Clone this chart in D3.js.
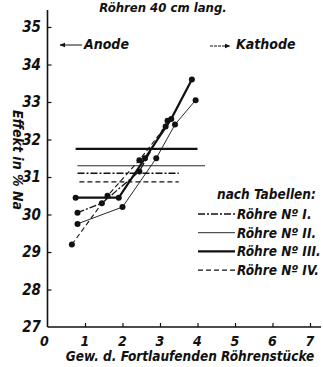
<!DOCTYPE html>
<html>
<head>
<meta charset="utf-8">
<script src="https://cdn.jsdelivr.net/npm/d3@7"></script>
<style>
  body { margin: 0; background: #fff; }
  svg { display: block; }
  text { font-family: "DejaVu Sans Condensed", "DejaVu Sans", sans-serif; font-style: italic; font-weight: bold; fill: #111; }
</style>
</head>
<body>
<svg id="chart" width="323" height="367"></svg>
<script>
'use strict';

// Röhre names and line styles for the legend
const ROEHREN = ['Röhre Nº I.', 'Röhre Nº II.', 'Röhre Nº III.', 'Röhre Nº IV.'];

// measured points, per Röhre: piece position vs effect in % Na
const POS_I   = [0.8, 1.45, 2.45, 3.2];
const VAL_I   = [30.05, 30.3, 31.15, 32.5];
const POS_II  = [0.8, 2.0, 2.9, 3.4, 3.95];
const VAL_II  = [29.75, 30.2, 31.5, 32.4, 33.05];
const POS_III = [0.75, 1.9, 2.6, 3.3, 3.85];
const VAL_III = [30.45, 30.45, 31.5, 32.55, 33.6];
const POS_IV  = [0.65, 1.6, 2.45, 3.15];
const VAL_IV  = [29.2, 30.5, 31.45, 32.35];

// values "nach Tabellen" (horizontal lines) and their extent
const TAB_VAL   = [31.1, 31.3, 31.75, 30.87];
const TAB_START = [0.8, 0.8, 0.75, 0.85];
const TAB_END   = [3.5, 4.2, 4.0, 3.5];

const X_TICKS = [0, 1, 2, 3, 4, 5, 6, 7];
const Y_TICKS = [27, 28, 29, 30, 31, 32, 33, 34, 35];

const STYLES = [
  {width: 1.3, dash: '7,2,2,2'},
  {width: 0.9, dash: null},
  {width: 2.2, dash: null},
  {width: 1.1, dash: '5,3'}
];

const svg = d3.select('#chart');
const x = d3.scaleLinear().domain([0, 7]).range([47.5, 310]);
const y = d3.scaleLinear().domain([27, 35]).range([327, 27]);

function styleLine(sel, s) {
  sel.attr('fill', 'none')
     .attr('stroke', '#111')
     .attr('stroke-width', s.width)
     .attr('stroke-dasharray', s.dash);
}

/***** TITLE *****/
svg.append('text')
   .attr('x', 163).attr('y', 12)
   .attr('text-anchor', 'middle')
   .attr('font-size', 13)
   .text('Röhren 40 cm lang.');

/***** AXES *****/
const xAxis = svg.append('g')
  .attr('transform', 'translate(0,' + y(27) + ')')
  .call(d3.axisTop(x).tickValues(X_TICKS.slice(1)).tickSize(4).tickFormat(''));
xAxis.select('.domain').remove();
svg.append('line')
   .attr('x1', x(0)).attr('x2', 321)
   .attr('y1', y(27)).attr('y2', y(27))
   .attr('stroke', '#111').attr('stroke-width', 1.6);

const yAxis = svg.append('g')
  .attr('transform', 'translate(' + x(0) + ',0)')
  .call(d3.axisRight(y).tickValues(Y_TICKS.slice(1)).tickSize(4).tickFormat(''));
yAxis.select('.domain').remove();
svg.append('line')
   .attr('x1', x(0)).attr('x2', x(0))
   .attr('y1', 10).attr('y2', y(27))
   .attr('stroke', '#111').attr('stroke-width', 1.6);
svg.selectAll('.tick line').attr('stroke', '#111').attr('stroke-width', 1.2);

svg.selectAll('.xlab')
   .data(X_TICKS).enter().append('text')
   .attr('x', d => x(d) - (d === 0 ? 3 : 0))
   .attr('y', y(27) + 19)
   .attr('text-anchor', 'middle')
   .attr('font-size', 14)
   .text(d => d);

svg.selectAll('.ylab')
   .data(Y_TICKS).enter().append('text')
   .attr('x', 41)
   .attr('y', d => y(d) + 5)
   .attr('text-anchor', 'end')
   .attr('font-size', 15)
   .text(d => d);

svg.append('text')
   .attr('transform', 'translate(13,' + 160 + ') rotate(90)')
   .attr('text-anchor', 'middle')
   .attr('font-size', 14)
   .text('Effekt in % Na');

svg.append('text')
   .attr('x', 190).attr('y', 361)
   .attr('text-anchor', 'middle')
   .attr('font-size', 13.5)
   .text('Gew. d. Fortlaufenden Röhrenstücke');

/***** ANODE / KATHODE *****/
svg.append('defs').append('marker')
   .attr('id', 'arr').attr('viewBox', '0 0 10 10')
   .attr('refX', 9).attr('refY', 5)
   .attr('markerWidth', 6).attr('markerHeight', 6)
   .attr('orient', 'auto')
   .append('path').attr('d', 'M0,1L10,5L0,9z').attr('fill', '#111');

svg.append('line')
   .attr('x1', 82).attr('x2', 60).attr('y1', 45).attr('y2', 45)
   .attr('stroke', '#111').attr('stroke-width', 1).attr('marker-end', 'url(#arr)');
svg.append('text').attr('x', 84).attr('y', 49).attr('font-size', 14).text('Anode');

svg.append('line')
   .attr('x1', 210).attr('x2', 230).attr('y1', 46).attr('y2', 46)
   .attr('stroke', '#111').attr('stroke-width', 1).attr('stroke-dasharray', '3,1')
   .attr('marker-end', 'url(#arr)');
svg.append('text').attr('x', 236).attr('y', 49).attr('font-size', 14).text('Kathode');

/***** TABELLEN LINES *****/
TAB_VAL.map((v, i) => {
  svg.append('line')
     .attr('x1', x(TAB_START[i])).attr('x2', x(TAB_END[i]))
     .attr('y1', y(v)).attr('y2', y(v))
     .call(styleLine, STYLES[i]);
});

/***** SERIES *****/
const SERIES = [
  d3.zip(POS_I, VAL_I),
  d3.zip(POS_II, VAL_II),
  d3.zip(POS_III, VAL_III),
  d3.zip(POS_IV, VAL_IV)
];
const line = d3.line().x(d => x(d[0])).y(d => y(d[1]));

SERIES.map((data, i) => {
  svg.append('path').attr('d', line(data)).call(styleLine, STYLES[i]);
  svg.selectAll(null)
     .data(data).enter().append('circle')
     .attr('cx', d => x(d[0])).attr('cy', d => y(d[1]))
     .attr('r', 3).attr('fill', '#111');
});

/***** LEGEND *****/
svg.append('text').attr('x', 217).attr('y', 199).attr('font-size', 13.5).text('nach Tabellen:');
ROEHREN.map((name, i) => {
  const ly = 214 + i * 18.7;
  svg.append('line')
     .attr('x1', 198).attr('x2', 235).attr('y1', ly).attr('y2', ly)
     .call(styleLine, STYLES[i]);
  svg.append('text').attr('x', 237).attr('y', ly + 5).attr('font-size', 13.5).text(name);
});
</script>
</body>
</html>
